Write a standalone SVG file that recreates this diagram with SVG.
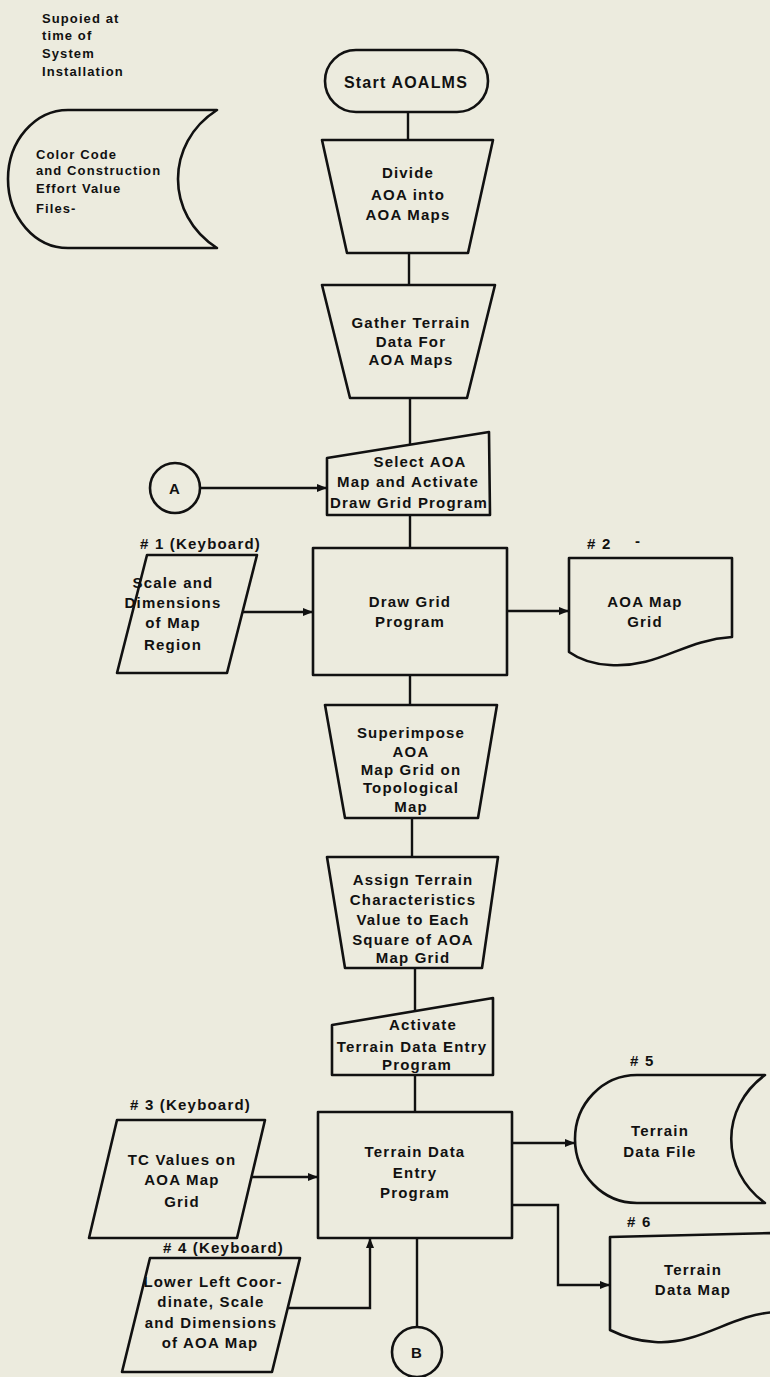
<svg xmlns="http://www.w3.org/2000/svg" width="770" height="1377" viewBox="0 0 770 1377">
<defs>
<marker id="arr" markerUnits="userSpaceOnUse" markerWidth="10" markerHeight="8" refX="10" refY="4" orient="auto">
<path d="M0,0 L10,4 L0,8 Z" fill="#111"/>
</marker>
<style>
.s{fill:none;stroke:#111;stroke-width:2.6;stroke-linejoin:round}
.c{fill:none;stroke:#111;stroke-width:2.4}
text{font-family:"Liberation Sans",Arial,sans-serif;font-weight:bold;fill:#111;font-size:15px;letter-spacing:1.2px}
.m{text-anchor:middle}
.sm{font-size:13px;letter-spacing:1.1px}
</style>
</defs>
<rect width="770" height="1377" fill="#ecebde"/>

<g id="note">
<text class="sm" x="42" y="23">Supoied at</text>
<text class="sm" x="42" y="40">time of</text>
<text class="sm" x="42" y="58">System</text>
<text class="sm" x="42" y="76">Installation</text>
</g>

<g id="colorCode">
<path class="s" d="M217 110 L68 110 A60 69 0 0 0 68 248 L217 248 C165 215 165 143 217 110 Z"/>
<text class="sm" x="36" y="159">Color Code</text>
<text class="sm" x="36" y="175">and Construction</text>
<text class="sm" x="36" y="193">Effort Value</text>
<text class="sm" x="36" y="213">Files-</text>
</g>

<g id="start">
<rect class="s" x="325" y="50" width="163" height="62" rx="31"/>
<text class="m" x="406" y="88" style="font-size:16px">Start AOALMS</text>
</g>

<g id="divide">
<polygon class="s" points="322,140 493,140 468,253 347,253"/>
<text class="m" x="408" y="178">Divide</text>
<text class="m" x="408" y="200">AOA into</text>
<text class="m" x="408" y="220">AOA Maps</text>
</g>

<g id="gather">
<polygon class="s" points="322,285 495,285 467,398 350,398"/>
<text class="m" x="411" y="328">Gather Terrain</text>
<text class="m" x="411" y="347">Data For</text>
<text class="m" x="411" y="365">AOA Maps</text>
</g>

<g id="select">
<polygon class="s" points="327,458 489,432 490,515 327,515"/>
<text class="m" x="420" y="467">Select AOA</text>
<text class="m" x="408" y="487">Map and Activate</text>
<text class="m" x="409" y="508">Draw Grid Program</text>
</g>

<g id="connA">
<circle class="s" cx="175" cy="488" r="25"/>
<text class="m" x="175" y="494">A</text>
</g>

<g id="drawGrid">
<rect class="s" x="313" y="548" width="194" height="127"/>
<text class="m" x="410" y="607">Draw Grid</text>
<text class="m" x="410" y="627">Program</text>
</g>

<g id="input1">
<text x="140" y="549"># 1 (Keyboard)</text>
<polygon class="s" points="147,555 257,555 227,673 117,673"/>
<text class="m" x="173" y="588">Scale and</text>
<text class="m" x="173" y="608">Dimensions</text>
<text class="m" x="173" y="628">of Map</text>
<text class="m" x="173" y="650">Region</text>
</g>

<g id="mapGrid">
<text x="587" y="549"># 2</text>
<text x="635" y="546">-</text>
<path class="s" d="M569 558 L732 558 L732 637 C682 640 660 668 610 665 C590 664 576 657 569 652 Z"/>
<text class="m" x="645" y="607">AOA Map</text>
<text class="m" x="645" y="627">Grid</text>
</g>

<g id="superimpose">
<polygon class="s" points="325,705 497,705 478,818 345,818"/>
<text class="m" x="411" y="738">Superimpose</text>
<text class="m" x="411" y="757">AOA</text>
<text class="m" x="411" y="775">Map Grid on</text>
<text class="m" x="411" y="793">Topological</text>
<text class="m" x="411" y="812">Map</text>
</g>

<g id="assign">
<polygon class="s" points="327,857 498,857 482,968 345,968"/>
<text class="m" x="413" y="885">Assign Terrain</text>
<text class="m" x="413" y="905">Characteristics</text>
<text class="m" x="413" y="925">Value to Each</text>
<text class="m" x="413" y="945">Square of AOA</text>
<text class="m" x="413" y="963">Map Grid</text>
</g>

<g id="activate">
<polygon class="s" points="332,1025 493,998 493,1075 332,1075"/>
<text class="m" x="423" y="1030">Activate</text>
<text class="m" x="412" y="1052">Terrain Data Entry</text>
<text class="m" x="417" y="1070">Program</text>
</g>

<g id="entry">
<rect class="s" x="318" y="1112" width="194" height="126"/>
<text class="m" x="415" y="1157">Terrain Data</text>
<text class="m" x="415" y="1178">Entry</text>
<text class="m" x="415" y="1198">Program</text>
</g>

<g id="input3">
<text x="130" y="1110"># 3 (Keyboard)</text>
<polygon class="s" points="117,1120 265,1120 237,1238 89,1238"/>
<text class="m" x="182" y="1165">TC Values on</text>
<text class="m" x="182" y="1185">AOA Map</text>
<text class="m" x="182" y="1207">Grid</text>
</g>

<g id="input4">
<text x="163" y="1253"># 4 (Keyboard)</text>
<polygon class="s" points="150,1258 300,1258 272,1372 122,1372"/>
<text class="m" x="213" y="1287">Lower Left Coor-</text>
<text class="m" x="211" y="1307">dinate, Scale</text>
<text class="m" x="211" y="1328">and Dimensions</text>
<text class="m" x="210" y="1348">of AOA Map</text>
</g>

<g id="connB">
<circle class="s" cx="417" cy="1352" r="25"/>
<text class="m" x="417" y="1358">B</text>
</g>

<g id="dataFile">
<text x="630" y="1066"># 5</text>
<path class="s" d="M765 1075 L637 1075 A62 64 0 0 0 637 1203 L765 1203 C720 1170 720 1108 765 1075 Z"/>
<text class="m" x="660" y="1136">Terrain</text>
<text class="m" x="660" y="1157">Data File</text>
</g>

<g id="dataMap">
<text x="627" y="1227"># 6</text>
<path class="s" d="M610 1237 L775 1233 L775 1312 C730 1315 700 1345 655 1342 C635 1341 620 1335 610 1330 Z"/>
<text class="m" x="693" y="1275">Terrain</text>
<text class="m" x="693" y="1295">Data Map</text>
</g>

<g id="connectors">
<path class="c" d="M408 112 V140"/>
<path class="c" d="M409 253 V285"/>
<path class="c" d="M410 398 V445"/>
<path class="c" d="M200 488 H327" marker-end="url(#arr)"/>
<path class="c" d="M410 515 V548"/>
<path class="c" d="M243 612 H313" marker-end="url(#arr)"/>
<path class="c" d="M507 611 H569" marker-end="url(#arr)"/>
<path class="c" d="M410 675 V705"/>
<path class="c" d="M412 818 V857"/>
<path class="c" d="M415 968 V1011"/>
<path class="c" d="M415 1075 V1112"/>
<path class="c" d="M252 1177 H318" marker-end="url(#arr)"/>
<path class="c" d="M288 1308 H370 V1238" marker-end="url(#arr)"/>
<path class="c" d="M512 1143 H575" marker-end="url(#arr)"/>
<path class="c" d="M512 1205 H558 V1285 H610" marker-end="url(#arr)"/>
<path class="c" d="M417 1238 V1327"/>
</g>
</svg>
